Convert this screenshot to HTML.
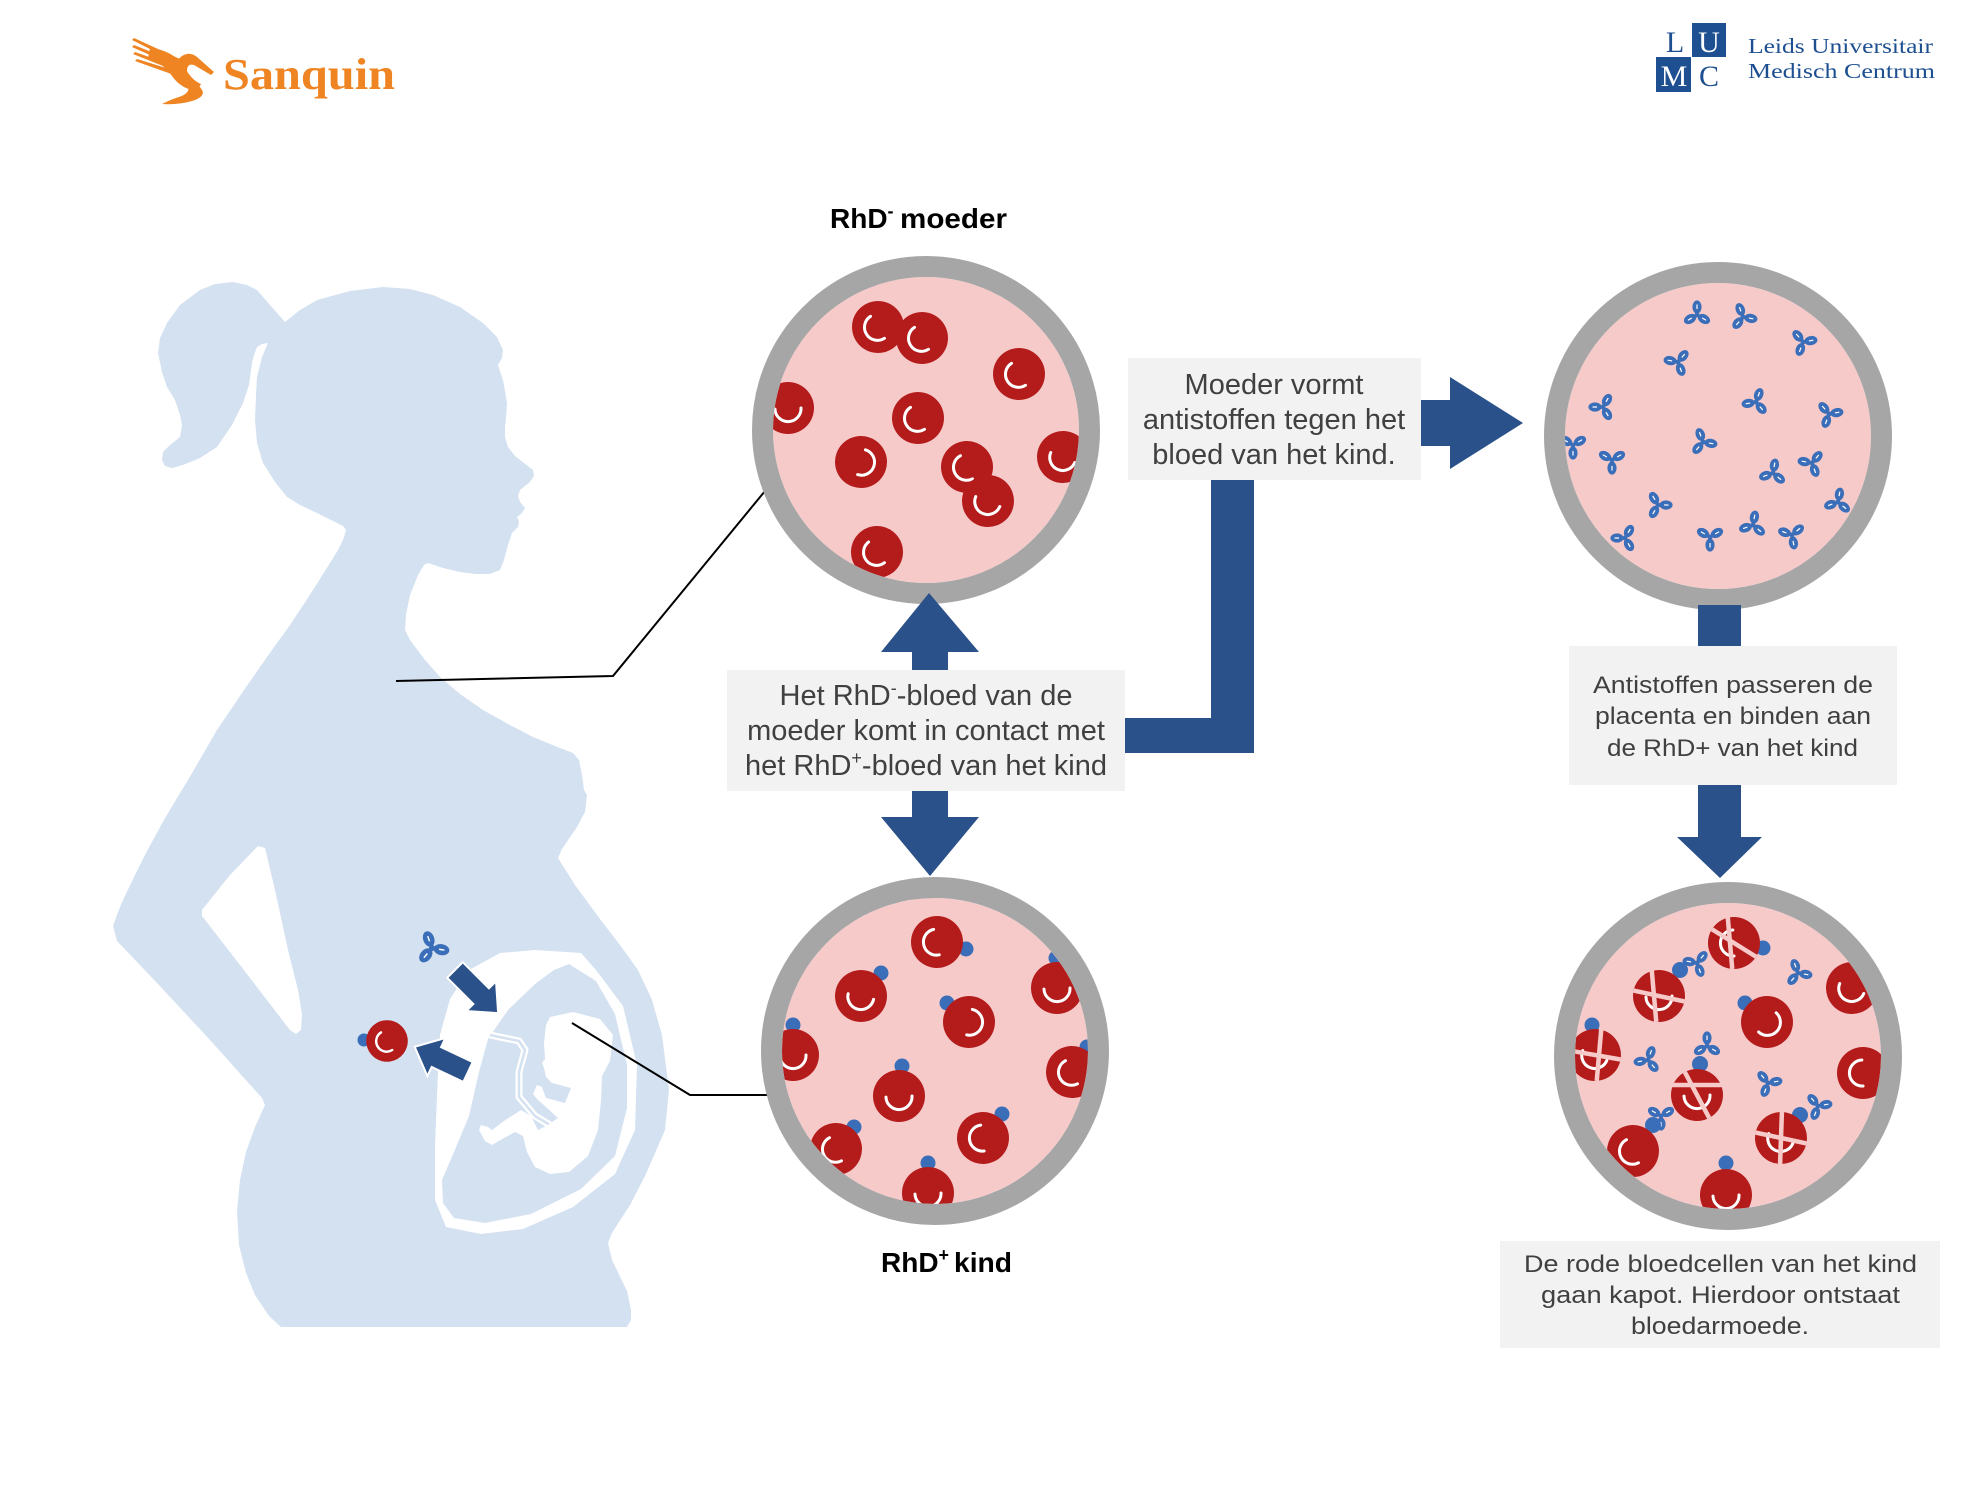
<!DOCTYPE html>
<html>
<head>
<meta charset="utf-8">
<style>
  html,body{margin:0;padding:0;background:#fff;}
  svg{display:block;}
  .t{font-family:"Liberation Sans",Arial,sans-serif;fill:#404040;}
  .b{font-family:"Liberation Sans",Arial,sans-serif;fill:#000;font-weight:bold;}
  .s{font-family:"Liberation Serif","Times New Roman",serif;}
</style>
</head>
<body>
<svg width="1966" height="1512" viewBox="0 0 1966 1512" xmlns="http://www.w3.org/2000/svg">
<defs>
  <clipPath id="k1"><circle cx="926" cy="430" r="153"/></clipPath>
  <clipPath id="k2"><circle cx="935" cy="1051" r="153"/></clipPath>
  <clipPath id="k3"><circle cx="1718" cy="436" r="153"/></clipPath>
  <clipPath id="k4"><circle cx="1728" cy="1056" r="153"/></clipPath>
  <g id="cell">
    <circle r="26" fill="#b41c1c"/>
    <path d="M -10,-8.4 A 13 13 0 0 0 9.2,9.2" stroke="#fff" stroke-width="3" fill="none" stroke-linecap="round"/>
  </g>
  <g id="lobe">
    <ellipse cx="0" cy="-8" rx="4.6" ry="6.6" fill="#3b6eb8"/>
    <path d="M0,-6 L0,-10.5" stroke="#fff" stroke-width="1.2" fill="none"/>
  </g>
  <g id="ab">
    <use href="#lobe"/>
    <use href="#lobe" transform="rotate(120)"/>
    <use href="#lobe" transform="rotate(240)"/>
    <circle r="2.5" fill="#3b6eb8"/>
  </g>
</defs>
<rect width="1966" height="1512" fill="#fff"/>

<!-- Sanquin logo -->
<g fill="#ef8422">
  <polygon points="132,40 134,38 182,60 180,64"/>
  <polygon points="132,47 134,45 181,64 179,68"/>
  <polygon points="133,54 135,52 180,68 178,72"/>
  <polygon points="135,61 137,59 179,72 177,76"/>
  <path d="M150,48 Q172,50 184,66 Q191,80 201,84 L197,91 Q181,89 172,76 Q163,63 148,58 Z"/>
  <path d="M177,80 Q172,63 182,56 Q190,51 197,57 L214,72 L211,75 L194,65 Q187,63 187,71 Q189,80 197,86 Z"/>
  <path d="M195,83 Q212,95 192,101 Q178,105 162,104 Q172,99 179,97 Q191,93 188,85 Z"/>
</g>
<text x="223" y="89" class="s" font-size="44" font-weight="bold" fill="#ef8422" textLength="172" lengthAdjust="spacingAndGlyphs">Sanquin</text>

<!-- LUMC logo -->
<rect x="1692" y="23" width="34" height="34" fill="#1d4f91"/>
<rect x="1656" y="57" width="35" height="35" fill="#1d4f91"/>
<text x="1675" y="52" class="s" font-size="30" fill="#1d4f91" text-anchor="middle">L</text>
<text x="1709" y="52" class="s" font-size="30" fill="#fff" text-anchor="middle">U</text>
<text x="1674" y="86" class="s" font-size="30" fill="#fff" text-anchor="middle">M</text>
<text x="1709" y="86" class="s" font-size="30" fill="#1d4f91" text-anchor="middle">C</text>
<text x="1748" y="53" class="s" font-size="21" fill="#1d4f91" textLength="185" lengthAdjust="spacingAndGlyphs">Leids Universitair</text>
<text x="1748" y="78" class="s" font-size="21" fill="#1d4f91" textLength="187" lengthAdjust="spacingAndGlyphs">Medisch Centrum</text>

<!-- Silhouette -->
<polygon fill="#d4e1f1" points="285,322 300,310 317,300 350,291 383,287 410,289 433,295 460,307 483,323 497,337 503,350 502,358 498,365 503,380 507,403 506,418 505,427 505,437 508,447 515,456 533,470 534,476 530,482 520,490 518,496 520,502 525,508 522,513 517,517 519,522 518,527 512,533 508,545 504,560 500,570 490,574 475,574 460,572 443,568 428,563 424,565 418,575 410,595 406,615 405,630 410,640 425,660 440,677 460,694 483,710 510,725 533,737 555,746 573,753 579,760 582,775 584,790 587,795 585,812 577,827 562,849 558,858 575,885 600,919 620,945 638,970 652,1000 662,1035 669,1090 665,1130 646,1174 630,1205 612,1233 608,1243 612,1260 627,1291 631,1310 631,1320 627,1327 281,1327 269,1316 255,1295 246,1273 239,1245 237,1211 240,1180 246,1152 255,1127 265,1105 262,1098 210,1040 158,984 117,941 113,926 118,912 123,900 135,875 146,853 165,818 188,780 217,730 242,693 267,657 290,625 313,590 330,563 338,550 343,540 346,530 343,526 335,522 317,513 300,505 287,497 275,482 263,463 257,443 255,420 256,395 257,377 262,357 268,343 262,344 257,347 254,355 252,363 249,385 243,403 232,425 217,447 200,458 183,465 172,468 165,466 162,460 163,452 170,445 180,437 182,425 180,415 175,400 167,387 162,372 158,353 160,338 167,323 180,305 200,290 215,284 233,282 247,285 257,290 270,305"/>
<!-- arm cutout -->
<polygon fill="#fff" points="258,846 265,848 275,890 288,950 298,990 302,1014 301,1030 296,1034 290,1030 240,965 202,916 202,910 230,875"/>

<!-- womb -->
<polygon fill="#fff" points="535,950 500,953 469,970 450,999 440,1035 438,1072 435,1145 435,1200 446,1227 481,1234 523,1229 573,1207 615,1174 635,1130 637,1065 623,1006 596,970 581,953"/>
<polygon fill="#d4e1f1" points="569,964 596,981 615,1014 627,1065 627,1108 615,1156 581,1189 531,1214 485,1223 454,1218 443,1203 442,1180 454,1152 469,1116 479,1072 488,1039 508,1010 535,984 554,970"/>
<polyline points="490,1035 519,1041 525,1050 519,1072 519,1097 535,1116 550,1125" fill="none" stroke="#fff" stroke-width="7" stroke-linejoin="round"/>
<polyline points="490,1035 519,1041 525,1050 519,1072 519,1097 535,1116 550,1125" fill="none" stroke="#d4e1f1" stroke-width="2.5" stroke-linejoin="round"/>
<polygon fill="#fff" points="550,1017 573,1012 600,1019 613,1035 610,1061 602,1076 601,1101 598,1130 588,1156 569,1172 550,1174 535,1167 527,1152 523,1136 515,1132 504,1138 492,1145 485,1141 479,1130 481,1125 488,1127 492,1130 504,1121 521,1110 531,1116 538,1130 548,1125 558,1118 546,1107 537,1099 533,1094 537,1085 542,1087 546,1098 565,1103 571,1088 552,1083 546,1077 544,1068 542,1063 545,1059 544,1043 546,1025"/>

<!-- fetus area arrows, antibody, cell -->
<polygon transform="translate(455,970) rotate(45)" points="0,-11 37,-11 37,-21 61,0 37,21 37,11 0,11" fill="#2a5189" stroke="#fff" stroke-width="2"/>
<polygon transform="translate(468,1072) rotate(205.3)" points="0,-11 35,-11 35,-21 59,0 35,21 35,11 0,11" fill="#2a5189" stroke="#fff" stroke-width="2"/>
<use href="#ab" transform="translate(432,948) scale(1.2) rotate(-20)"/>
<circle cx="364" cy="1040" r="6.5" fill="#3b6eb8"/>
<use href="#cell" transform="translate(387,1041) scale(0.8) rotate(15)"/>

<!-- connectors -->
<polyline points="396,681 613,676 765,491" fill="none" stroke="#000" stroke-width="2"/>
<polyline points="572,1023 690,1095 768,1095" fill="none" stroke="#000" stroke-width="2"/>

<!-- Circle 1: mother -->
<circle cx="926" cy="430" r="153" fill="#f7caca"/>
<g clip-path="url(#k1)">
  <use href="#cell" transform="translate(878,327) rotate(15)"/>
  <use href="#cell" transform="translate(922,338) rotate(15)"/>
  <use href="#cell" transform="translate(1019,374) rotate(15)"/>
  <use href="#cell" transform="translate(788,408) rotate(-45)"/>
  <use href="#cell" transform="translate(918,418) rotate(15)"/>
  <use href="#cell" transform="translate(861,462) rotate(-115)"/>
  <use href="#cell" transform="translate(967,467) rotate(20)"/>
  <use href="#cell" transform="translate(988,501) rotate(-20)"/>
  <use href="#cell" transform="translate(1063,457) rotate(-20)"/>
  <use href="#cell" transform="translate(877,552) rotate(10)"/>
</g>
<circle cx="926" cy="430" r="163.5" fill="none" stroke="#a6a6a6" stroke-width="21"/>

<!-- Circle 2: child -->
<circle cx="935" cy="1051" r="153" fill="#f7caca"/>
<g clip-path="url(#k2)">
  <circle cx="966" cy="949" r="7.5" fill="#3b6eb8"/><use href="#cell" transform="translate(937,942) rotate(35)"/>
  <circle cx="881" cy="973" r="7.5" fill="#3b6eb8"/><use href="#cell" transform="translate(861,996) rotate(-30)"/>
  <circle cx="947" cy="1003" r="7.5" fill="#3b6eb8"/><use href="#cell" transform="translate(969,1022) rotate(-120)"/>
  <circle cx="1056" cy="958" r="7.5" fill="#3b6eb8"/><use href="#cell" transform="translate(1057,988) rotate(-45)"/>
  <circle cx="793" cy="1025" r="7.5" fill="#3b6eb8"/><use href="#cell" transform="translate(793,1055) rotate(-45)"/>
  <circle cx="902" cy="1066" r="7.5" fill="#3b6eb8"/><use href="#cell" transform="translate(899,1096) rotate(-45)"/>
  <circle cx="1087" cy="1047" r="7.5" fill="#3b6eb8"/><use href="#cell" transform="translate(1072,1072) rotate(20)"/>
  <circle cx="854" cy="1127" r="7.5" fill="#3b6eb8"/><use href="#cell" transform="translate(836,1149) rotate(20)"/>
  <circle cx="1002" cy="1114" r="7.5" fill="#3b6eb8"/><use href="#cell" transform="translate(983,1138) rotate(40)"/>
  <circle cx="928" cy="1163" r="7.5" fill="#3b6eb8"/><use href="#cell" transform="translate(928,1193) rotate(-45)"/>
</g>
<circle cx="935" cy="1051" r="163.5" fill="none" stroke="#a6a6a6" stroke-width="21"/>

<!-- Circle 3: antibodies -->
<circle cx="1718" cy="436" r="153" fill="#f7caca"/>
<g clip-path="url(#k3)">
  <use href="#ab" transform="translate(1697,315) rotate(0)"/>
  <use href="#ab" transform="translate(1743,317) rotate(100)"/>
  <use href="#ab" transform="translate(1803,342) rotate(200)"/>
  <use href="#ab" transform="translate(1678,362) rotate(40)"/>
  <use href="#ab" transform="translate(1603,407) rotate(150)"/>
  <use href="#ab" transform="translate(1756,402) rotate(260)"/>
  <use href="#ab" transform="translate(1829,414) rotate(320)"/>
  <use href="#ab" transform="translate(1573,445) rotate(60)"/>
  <use href="#ab" transform="translate(1612,460) rotate(180)"/>
  <use href="#ab" transform="translate(1703,442) rotate(220)"/>
  <use href="#ab" transform="translate(1773,473) rotate(10)"/>
  <use href="#ab" transform="translate(1812,463) rotate(280)"/>
  <use href="#ab" transform="translate(1838,502) rotate(130)"/>
  <use href="#ab" transform="translate(1658,505) rotate(90)"/>
  <use href="#ab" transform="translate(1625,538) rotate(30)"/>
  <use href="#ab" transform="translate(1710,537) rotate(300)"/>
  <use href="#ab" transform="translate(1753,525) rotate(250)"/>
  <use href="#ab" transform="translate(1792,535) rotate(170)"/>
</g>
<circle cx="1718" cy="436" r="163.5" fill="none" stroke="#a6a6a6" stroke-width="21"/>

<!-- Circle 4: destroyed cells -->
<circle cx="1728" cy="1056" r="153" fill="#f7caca"/>
<g clip-path="url(#k4)">
  <use href="#ab" transform="translate(1648,1060) rotate(20)"/>
  <use href="#ab" transform="translate(1768,1083) rotate(200)"/>
  <use href="#ab" transform="translate(1798,973) rotate(100)"/>
  <use href="#ab" transform="translate(1697,963) rotate(40)"/>
  <use href="#ab" transform="translate(1707,1046) rotate(0)"/>
  <use href="#ab" transform="translate(1818,1106) rotate(80)"/>
  <use href="#ab" transform="translate(1661,1116) rotate(60)"/>

  <circle cx="1763" cy="948" r="7.5" fill="#3b6eb8"/>
  <g transform="translate(1734,943)">
    <use href="#cell" transform="rotate(45)"/>
    <line x1="-26" y1="0" x2="26" y2="0" transform="translate(-4,0) rotate(85)" stroke="#f7caca" stroke-width="4.5"/>
    <line x1="-26" y1="0" x2="26" y2="0" transform="rotate(32)" stroke="#f7caca" stroke-width="4.5"/>
  </g>
  <circle cx="1680" cy="970" r="8" fill="#3b6eb8"/>
  <g transform="translate(1659,996)">
    <use href="#cell" transform="rotate(-45)"/>
    <line x1="-26" y1="0" x2="26" y2="0" transform="rotate(12)" stroke="#f7caca" stroke-width="4.5"/>
    <line x1="-26" y1="0" x2="26" y2="0" transform="translate(-5,0) rotate(85)" stroke="#f7caca" stroke-width="4.5"/>
  </g>
  <circle cx="1745" cy="1003" r="7.5" fill="#3b6eb8"/>
  <use href="#cell" transform="translate(1767,1022) rotate(-90)"/>
  <use href="#cell" transform="translate(1852,988) rotate(-20)"/>
  <circle cx="1592" cy="1025" r="7.5" fill="#3b6eb8"/>
  <g transform="translate(1595,1055)">
    <use href="#cell" transform="rotate(-20)"/>
    <line x1="-26" y1="0" x2="26" y2="0" transform="rotate(10)" stroke="#f7caca" stroke-width="4.5"/>
    <line x1="-26" y1="0" x2="26" y2="0" transform="translate(4,0) rotate(95)" stroke="#f7caca" stroke-width="4.5"/>
  </g>
  <circle cx="1700" cy="1064" r="8" fill="#3b6eb8"/>
  <g transform="translate(1697,1095)">
    <use href="#cell" transform="rotate(-45)"/>
    <line x1="-26" y1="0" x2="26" y2="0" transform="translate(0,-10) rotate(0)" stroke="#f7caca" stroke-width="4.5"/>
    <line x1="-26" y1="0" x2="26" y2="0" transform="rotate(62)" stroke="#f7caca" stroke-width="4.5"/>
  </g>
  <use href="#cell" transform="translate(1863,1073) rotate(45)"/>
  <circle cx="1800" cy="1115" r="8" fill="#3b6eb8"/>
  <g transform="translate(1781,1138)">
    <use href="#cell" transform="rotate(-20)"/>
    <line x1="-26" y1="0" x2="26" y2="0" transform="rotate(12)" stroke="#f7caca" stroke-width="4.5"/>
    <line x1="-26" y1="0" x2="26" y2="0" transform="rotate(92)" stroke="#f7caca" stroke-width="4.5"/>
  </g>
  <circle cx="1653" cy="1125" r="8" fill="#3b6eb8"/>
  <use href="#cell" transform="translate(1633,1151) rotate(20)"/>
  <circle cx="1726" cy="1163" r="7.5" fill="#3b6eb8"/>
  <use href="#cell" transform="translate(1726,1195) rotate(-45)"/>
</g>
<circle cx="1728" cy="1056" r="163.5" fill="none" stroke="#a6a6a6" stroke-width="21"/>

<!-- Arrows / bars -->
<g fill="#2a5189">
  <polygon points="929,593 979,652 948,652 948,672 912,672 912,652 881,652"/>
  <polygon points="912,789 948,789 948,817 979,817 930,876 881,817 912,817"/>
  <rect x="1123" y="718" width="131" height="35"/>
  <rect x="1211" y="478" width="43" height="275"/>
  <polygon points="1419,400 1450,400 1450,377 1523,423 1450,469 1450,446 1419,446"/>
  <rect x="1698" y="605" width="43" height="43"/>
  <polygon points="1698,783 1741,783 1741,837 1762,837 1720,878 1677,837 1698,837"/>
</g>

<!-- Titles -->
<text x="830" y="228" class="b" font-size="28">RhD<tspan dy="-11" font-size="18">-</tspan></text>
<text x="900" y="228" class="b" font-size="28" textLength="107" lengthAdjust="spacingAndGlyphs">moeder</text>
<text x="881" y="1272" class="b" font-size="28">RhD<tspan dy="-11" font-size="18">+</tspan></text>
<text x="954" y="1272" class="b" font-size="28" textLength="58" lengthAdjust="spacingAndGlyphs">kind</text>

<!-- Box 1 -->
<rect x="727" y="670" width="398" height="121" fill="#f2f2f2"/>
<text x="926" y="705" class="t" font-size="29" text-anchor="middle">Het RhD<tspan dy="-11" font-size="18">-</tspan><tspan dy="11">-bloed van de</tspan></text>
<text x="926" y="740" class="t" font-size="29" text-anchor="middle">moeder komt in contact met</text>
<text x="926" y="775" class="t" font-size="29" text-anchor="middle">het RhD<tspan dy="-11" font-size="18">+</tspan><tspan dy="11">-bloed van het kind</tspan></text>

<!-- Box 2 -->
<rect x="1128" y="358" width="293" height="122" fill="#f2f2f2"/>
<text x="1274" y="394" class="t" font-size="29" text-anchor="middle">Moeder vormt</text>
<text x="1274" y="429" class="t" font-size="29" text-anchor="middle">antistoffen tegen het</text>
<text x="1274" y="464" class="t" font-size="29" text-anchor="middle">bloed van het kind.</text>

<!-- Box 3 -->
<rect x="1569" y="646" width="328" height="139" fill="#f2f2f2"/>
<text x="1593" y="693" class="t" font-size="24" textLength="280" lengthAdjust="spacingAndGlyphs">Antistoffen passeren de</text>
<text x="1595" y="724" class="t" font-size="24" textLength="276" lengthAdjust="spacingAndGlyphs">placenta en binden aan</text>
<text x="1607" y="756" class="t" font-size="24" textLength="251" lengthAdjust="spacingAndGlyphs">de RhD+ van het kind</text>

<!-- Box 4 -->
<rect x="1500" y="1241" width="440" height="107" fill="#f2f2f2"/>
<text x="1524" y="1272" class="t" font-size="24" textLength="393" lengthAdjust="spacingAndGlyphs">De rode bloedcellen van het kind</text>
<text x="1541" y="1303" class="t" font-size="24" textLength="359" lengthAdjust="spacingAndGlyphs">gaan kapot. Hierdoor ontstaat</text>
<text x="1631" y="1334" class="t" font-size="24" textLength="178" lengthAdjust="spacingAndGlyphs">bloedarmoede.</text>
</svg>
</body>
</html>
